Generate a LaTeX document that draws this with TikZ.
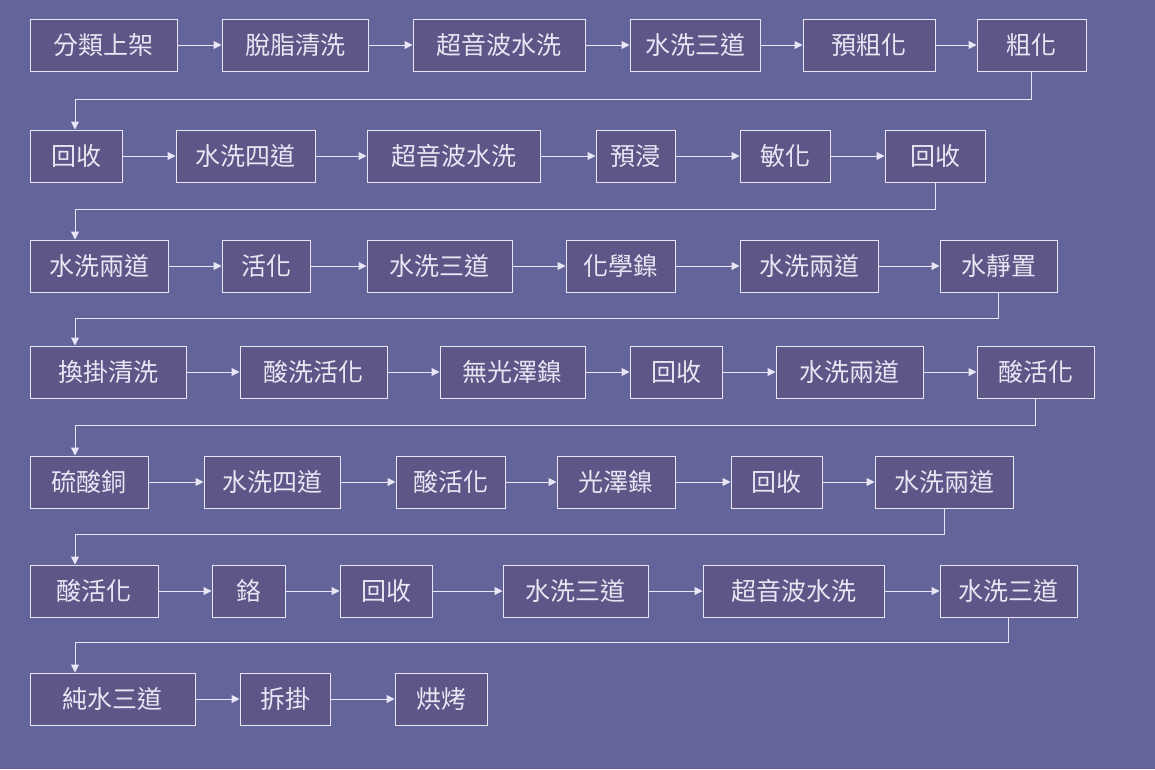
\documentclass[tikz,border=0pt]{standalone}
\usepackage{fontspec}
\setmainfont{Noto Sans CJK TC}
\usetikzlibrary{arrows.meta}
\definecolor{bgpurple}{HTML}{63649A}
\definecolor{boxpurple}{HTML}{5D5686}
\definecolor{linelav}{HTML}{E8E6F4}
\tikzset{
	stage/.style = {draw=linelav, fill=boxpurple, text=linelav, line width=1pt,
		minimum height=52pt, inner sep=0pt, font=\fontsize{25pt}{25pt}\selectfont},
	flow/.style = {draw=linelav, line width=1pt, -{Triangle[length=8pt,width=8pt]}}
}
\begin{document}
\begin{tikzpicture}[x=1pt,y=-1pt]
\fill[bgpurple] (0,0) rectangle (1155,769);
\useasboundingbox (0,0) rectangle (1155,769);
% stage (name/left/right/text) per row
\foreach \y/\row in {45/{a1/30/177/分類上架,a2/222/368/脫脂清洗,a3/413/585/超音波水洗,a4/630/760/水洗三道,a5/803/935/預粗化,a6/977/1086/粗化},
	156/{b1/30/122/回收,b2/176/315/水洗四道,b3/367/540/超音波水洗,b4/596/675/預浸,b5/740/830/敏化,b6/885/985/回收},
	266/{c1/30/168/水洗兩道,c2/222/310/活化,c3/367/512/水洗三道,c4/566/675/化學鎳,c5/740/878/水洗兩道,c6/940/1057/水靜置},
	372/{d1/30/186/換掛清洗,d2/240/387/酸洗活化,d3/440/585/無光澤鎳,d4/630/722/回收,d5/776/923/水洗兩道,d6/977/1094/酸活化},
	482/{e1/30/148/硫酸銅,e2/204/340/水洗四道,e3/396/505/酸活化,e4/557/675/光澤鎳,e5/731/822/回收,e6/875/1013/水洗兩道},
	591/{f1/30/158/酸活化,f2/212/285/鉻,f3/340/432/回收,f4/503/648/水洗三道,f5/703/884/超音波水洗,f6/940/1077/水洗三道},
	699/{g1/30/195/純水三道,g2/240/330/拆掛,g3/395/487/烘烤}}
	\foreach \n/\l/\r/\t in \row
		\node[stage, minimum width={\r-\l}] (\n) at ({(\l+\r)/2},\y) {\t};
% arrows within rows
\foreach \p in {a,b,c,d,e,f}
	\foreach \i [count=\j from 2] in {1,...,5}
		\draw[flow] (\p\i.east) -- (\p\j.west);
\draw[flow] (g1.east) -- (g2.west);
\draw[flow] (g2.east) -- (g3.west);
% turns between rows
\foreach \s/\t/\m in {a6/b1/99, b6/c1/209, c6/d1/318, d6/e1/425, e6/f1/534, f6/g1/642}
	\draw[flow] (\s.south) |- (75,\m) -- (75,\m |- \t.north);
\end{tikzpicture}
\end{document}
